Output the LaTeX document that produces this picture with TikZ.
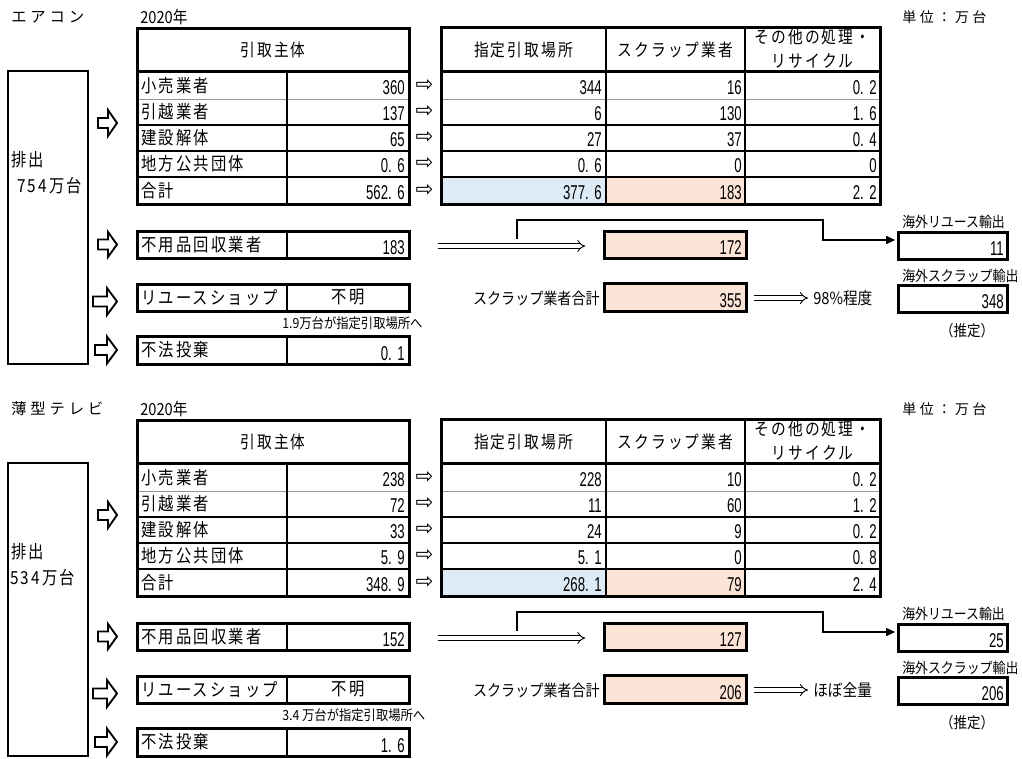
\documentclass[tikz,border=0pt]{standalone}
\usepackage{fontspec}
\usetikzlibrary{arrows.meta}
\newfontfamily\fJp[FakeStretch=0.85,LetterSpace=12]{Noto Sans CJK JP}
\newfontfamily\fTt[LetterSpace=25]{Noto Sans CJK JP}
\newfontfamily\fSm[FakeStretch=0.88]{Noto Sans CJK JP}
\newfontfamily\fNum[FakeStretch=0.66]{Liberation Sans}
\newfontfamily\fArr{DejaVu Sans}
\definecolor{lblue}{RGB}{221,235,247}
\definecolor{peach}{RGB}{252,228,214}
\newcommand\Dt{.\kern.278em}
\tikzset{
 lbl/.style={inner sep=0pt, anchor=west, font=\fJp\fontsize{13.5}{18}\selectfont},
 hdr/.style={inner sep=0pt, align=center, font=\fJp\fontsize{13}{18}\selectfont},
 num/.style={inner sep=0pt, anchor=base east, font=\fNum\fontsize{15}{16}\selectfont},
 ttl/.style={inner sep=0pt, anchor=west, font=\fTt\fontsize{11.5}{14}\selectfont},
 sml/.style={inner sep=0pt, font=\fSm\fontsize{11}{13}\selectfont},
 sarr/.style={inner sep=0pt, font=\fArr\fontsize{16}{18}\selectfont},
 bthick/.style={line width=2.25pt},
 bmid/.style={line width=1.5pt},
 bthin/.style={line width=0.75pt, black!40},
 dbl/.style={double, double distance=2.4pt, line width=0.7pt, -{Implies}},
 harr/.style={line width=1.4pt, line join=miter},
 flow/.style={line width=1.1pt, -{Triangle[length=7pt,width=6pt]}},
}
\newcommand\HArr[4]{%
 \draw[harr] (#1,{#2-5}) -- (#3,{#2-5}) -- (#3,{#2-#4}) -- (117,#2) -- (#3,{#2+#4}) -- (#3,{#2+5}) -- (#1,{#2+5}) -- cycle;}
\newcommand\DrawSection{%
 \node[ttl] (title) at (11,17) {\Title};
 \node[sml, anchor=west, font=\fSm\fontsize{12.5}{14}\selectfont] (year) at (140,17) {2020年};
 \node[ttl, font=\fTt\fontsize{10.5}{13}\selectfont] (unit) at (902,17) {単位：万台};
 % emission box
 \draw[line width=1.8pt] (8,71) rectangle (88,364);
 \node[lbl] (haishutsu) at (11,160) {排出};
 \node[lbl] (haishutsuN) at (\ExX,186) {\ExN};
 % hollow arrows
 \HArr{98}{123}{108}{13}
 \HArr{98}{244.5}{108}{12.5}
 \HArr{93}{301.5}{107}{13.5}
 \HArr{95}{350}{107}{13.5}
 % left table
 \draw[bthin] (137,99) -- (409,99);
 \draw[bmid] (137,125) -- (409,125) (137,151) -- (409,151) (137,177) -- (409,177) (287,71) -- (287,204);
 \draw[bthick] (137,71) -- (409,71);
 \draw[bthick] (137,28) rectangle (409,204);
 \node[hdr] (hLeft) at (273,49.5) {引取主体};
 % right table
 \fill[lblue] (441,177) rectangle (606,204);
 \fill[peach] (606,177) rectangle (745,204);
 \draw[bthin] (441,99) -- (880,99);
 \draw[bmid] (441,125) -- (880,125) (441,151) -- (880,151) (441,177) -- (880,177) (606,27) -- (606,204) (745,27) -- (745,204);
 \draw[bthick] (441,71) -- (880,71);
 \draw[bthick] (441,27) rectangle (880,204);
 \node[hdr] (hA) at (523.5,49.5) {指定引取場所};
 \node[hdr] (hB) at (675.5,49.5) {スクラップ業者};
 \node[hdr] (hC) at (812.5,48.5) {その他の処理・\\リサイクル};
 \foreach \lab/\lv/\ra/\rb/\rc/\yb [count=\i] in \Rows {
   \node[lbl] (lab\i) at (141,{\yb-13}) {\lab};
   \node[num] (lv\i) at (405,{\yb-4.5}) {\lv};
   \node[sarr] (ar\i) at (424.5,{\yb-13.5}) {⇨};
   \node[num] (ra\i) at (602,{\yb-4.5}) {\ra};
   \node[num] (rb\i) at (742,{\yb-4.5}) {\rb};
   \node[num] (rc\i) at (877,{\yb-4.5}) {\rc};
 }
 % lower boxes
 \draw[bthick] (137,231) rectangle (409,258);
 \draw[bmid] (287,231) -- (287,258);
 \node[lbl] (fuyo) at (141,244.5) {不用品回収業者};
 \node[num] (fuyoV) at (405,254) {\FuyoV};
 \draw[bthick] (137,284) rectangle (409,311);
 \draw[bmid] (287,284) -- (287,311);
 \node[lbl] (reuse) at (141,297.5) {リユースショップ};
 \node[lbl, anchor=center] (reuseV) at (348,297.5) {不明};
 \node[sml, anchor=west, font=\fSm\fontsize{10.5}{13}\selectfont] (reuseNote) at (282,323) {\ReuseNote};
 \draw[bthick] (137,336) rectangle (409,364);
 \draw[bmid] (287,336) -- (287,364);
 \node[lbl] (fuho) at (141,350) {不法投棄};
 \node[num] (fuhoV) at (405,360) {\FuhoV};
 % scrap dealers
 \filldraw[bthick, fill=peach] (604,231) rectangle (746,258);
 \node[num] (vScrapA) at (742,254.5) {\ScrapA};
 \filldraw[bthick, fill=peach] (604,283) rectangle (746,311);
 \node[num] (vScrapT) at (742,307) {\ScrapT};
 \node[sml, anchor=east, font=\fSm\fontsize{12}{14}\selectfont] (scrapT) at (600,298) {スクラップ業者合計};
 \node[sml, anchor=west, font=\fSm\fontsize{12.5}{14}\selectfont] (pct) at (813,298) {\Pct};
 % overseas
 \draw[bthick] (898,232) rectangle (1007,259);
 \node[num] (vReuseEx) at (1004,255) {\ReuseEx};
 \node[sml, anchor=west] (lReuseEx) at (902,222) {海外リユース輸出};
 \draw[bthick] (898,285) rectangle (1007,312);
 \node[num] (vScrapEx) at (1004,308) {\ScrapEx};
 \node[sml, anchor=west] (lScrapEx) at (902,276) {海外スクラップ輸出};
 \node[sml, font=\fSm\fontsize{11.5}{13}\selectfont] (suitei) at (967,331) {（推定）};
 % connectors
 \coordinate (fuyoE) at (409,246);
 \coordinate (boxAW) at (604,246);
 \draw[dbl, shorten <=21.75pt, shorten >=14pt] (fuyoE) -- (boxAW);
 \coordinate (brS) at (517,239);
 \coordinate (brA) at (823,220);
 \coordinate (exW) at (898,240);
 \draw[flow, shorten >=2pt] (brS) |- (brA) |- (exW);
 \coordinate (boxTE) at (746,298);
 \draw[dbl, shorten <=6pt, shorten >=3.75pt] (boxTE) -- (pct.west);
}
\begin{document}
\begin{tikzpicture}[x=0.75pt, y=-0.75pt]
\useasboundingbox (0,0) rectangle (1022,758);
\def\Title{エアコン}\def\ExX{17}\def\ExN{754万台}
\def\Rows{小売業者/360/344/16/0\Dt2/99, 引越業者/137/6/130/1\Dt6/125, 建設解体/65/27/37/0\Dt4/151, 地方公共団体/0\Dt6/0\Dt6/0/0/177, 合計/562\Dt6/377\Dt6/183/2\Dt2/204}
\def\FuyoV{183}\def\ScrapA{172}\def\ReuseNote{1.9万台が指定引取場所へ}\def\ScrapT{355}\def\Pct{98\%程度}\def\ReuseEx{11}\def\ScrapEx{348}\def\FuhoV{0\Dt1}
\DrawSection
\begin{scope}[yshift=-294pt, name prefix=tv-]
\def\Title{薄型テレビ}\def\ExX{10}\def\ExN{534万台}
\def\Rows{小売業者/238/228/10/0\Dt2/99, 引越業者/72/11/60/1\Dt2/125, 建設解体/33/24/9/0\Dt2/151, 地方公共団体/5\Dt9/5\Dt1/0/0\Dt8/177, 合計/348\Dt9/268\Dt1/79/2\Dt4/204}
\def\FuyoV{152}\def\ScrapA{127}\def\ReuseNote{3.4 万台が指定引取場所へ}\def\ScrapT{206}\def\Pct{ほぼ全量}\def\ReuseEx{25}\def\ScrapEx{206}\def\FuhoV{1\Dt6}
\DrawSection
\end{scope}
\end{tikzpicture}
\end{document}
